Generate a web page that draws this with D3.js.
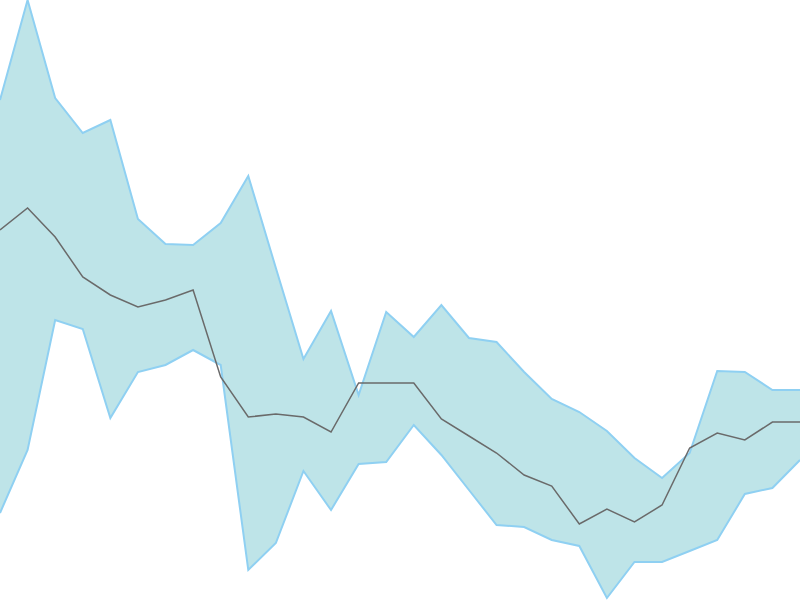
<!DOCTYPE html>
<html>
<head>
<meta charset="utf-8">
<script src="https://cdn.jsdelivr.net/npm/d3@7"></script>
<style>
  html, body { margin: 0; padding: 0; background: #fff; }
  svg { display: block; }
</style>
</head>
<body>
<div id="chart"></div>
<script>
// Band chart: upper / lower bounds with a middle line, no axes
const idx = d3.range(30);

const upper = [500, 600, 502, 467, 480, 381, 356, 355, 377, 424,
               332, 241, 289, 205, 288, 263, 295, 262, 258, 228,
               201, 188, 169, 142, 122, 147, 229, 228, 210, 210];

const middle = [370, 392, 363, 323, 305, 293, 300, 310, 223, 183,
                186, 183, 168, 217, 217, 217, 181, 164, 147, 125,
                114,  76,  91,  78,  95, 152, 167, 160, 178, 178];

const lower = [87, 150, 280, 271, 182, 228, 235, 250, 235, 30,
               57, 129,  90, 136, 138, 175, 145, 110,  75, 73,
               60,  54,   2,  38,  38,  49,  60, 106, 112, 140];

const W = 800, H = 600;

const x = d3.scaleLinear().domain([0, idx.length - 1]).range([0, W]);
const y = d3.scaleLinear().domain([0, 600]).range([H, 0]);

const svg = d3.select('#chart').append('svg')
  .attr('width', W).attr('height', H);

const band = d3.area()
  .x(i => x(i))
  .y0(i => y(lower[i]))
  .y1(i => y(upper[i]));

svg.append('path')
  .attr('d', band(idx))
  .attr('fill', '#bee4e8')
  .attr('stroke', 'none');

const edge = arr => d3.line().x(i => x(i)).y(i => y(arr[i]))(idx);

[upper, lower].forEach(arr => {
  svg.append('path')
    .attr('d', edge(arr))
    .attr('fill', 'none')
    .attr('stroke', '#8fd0f2')
    .attr('stroke-width', 2);
});

svg.append('path')
  .attr('d', edge(middle))
  .attr('fill', 'none')
  .attr('stroke', '#6a6a6a')
  .attr('stroke-width', 1.5);
</script>
</body>
</html>
